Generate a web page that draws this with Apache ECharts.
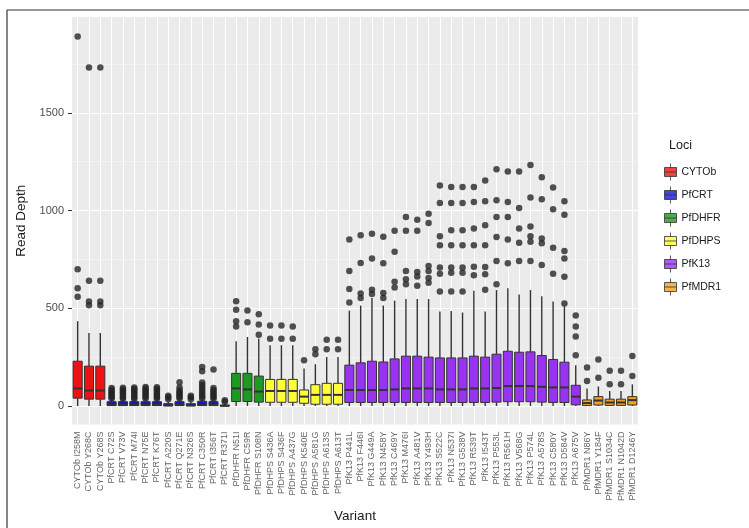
<!DOCTYPE html>
<html><head><meta charset="utf-8">
<script src="https://cdn.jsdelivr.net/npm/echarts@6/dist/echarts.min.js"></script>
<style>html,body{margin:0;padding:0;background:#fff}#c{width:749px;height:528px}</style>
</head><body><div id="c"></div>
<script>
const categories = [
 'CYTOb I258M','CYTOb Y268C','CYTOb Y268S',
 'PfCRT C72S','PfCRT V73V','PfCRT M74I','PfCRT N75E','PfCRT K76T','PfCRT A220S','PfCRT Q271E','PfCRT N326S','PfCRT C350R','PfCRT I356T','PfCRT R371I',
 'PfDHFR N51I','PfDHFR C59R','PfDHFR S108N',
 'PfDHPS S436A','PfDHPS S436F','PfDHPS A437G','PfDHPS K540E','PfDHPS A581G','PfDHPS A613S','PfDHPS A613T',
 'PfK13 P441L','PfK13 F446I','PfK13 G449A','PfK13 N458Y','PfK13 C469Y','PfK13 M476I','PfK13 A481V','PfK13 Y493H','PfK13 S522C','PfK13 N537I','PfK13 G538V','PfK13 R539T','PfK13 I543T','PfK13 P553L','PfK13 R561H','PfK13 V568G','PfK13 P574L','PfK13 A578S','PfK13 C580Y','PfK13 D584V','PfK13 A675V',
 'PfMDR1 N86Y','PfMDR1 Y184F','PfMDR1 S1034C','PfMDR1 N1042D','PfMDR1 D1246Y'
];
const loci = ['CYTOb','PfCRT','PfDHFR','PfDHPS','PfK13','PfMDR1'];

const lowWhisker = [0,0,0, 0,0,0,0,0,0,0,0,0,0,0, 0,0,0, 0,0,0,0,0,0,0,
 0,0,0,0,0,0,0,0,0,0,0,0,0,0,0,0,0,0,0,0,0, 0,0,0,0,0];
const q1 = [40,35,35, 2,2,2,2,2,1,2,1,2,2,0, 23,23,20, 19,19,19,14,9,9,9,
 18,18,18,18,18,18,18,18,18,18,18,18,18,20,22,22,22,20,18,18,6, 2,5,3,3,5];
const median = [90,79,79, 6,6,6,6,6,3,6,3,6,6,1, 90,85,74, 77,77,77,48,57,57,57,
 82,82,82,82,85,90,90,90,85,85,85,90,90,92,102,102,102,98,95,95,48, 15,28,18,18,30];
const q3 = [229,204,204, 22,22,22,22,22,12,22,12,24,22,5, 167,167,153, 136,136,136,82,109,116,116,
 209,221,229,225,241,255,255,250,246,246,246,255,250,265,280,275,277,258,238,224,106, 31,48,35,35,48];
const highWhisker = [434,373,373, 30,30,30,30,30,20,30,20,32,30,12, 331,353,345, 311,311,311,192,214,251,251,
 488,514,552,514,539,547,547,547,483,486,478,590,483,593,603,570,593,561,534,510,209, 90,100,77,77,111];
const outliers = [
 [559,603,700,1890],[515,535,641,1732],[515,535,641,1732],
 [38,45,53,60,68,75,83,92],[37,44,52,61,69,77,85,93],[36,44,53,62,70,79,87,95],[38,46,55,63,72,80,89,97],[37,45,54,62,71,79,88,96],
 [35,45,52],[38,46,55,63,72,80,95,121],[35,45,52],[38,48,58,70,82,95,108,120,178,200],[36,45,54,63,72,82,92,187],[22,30],
 [407,434,493,536],[429,489],[364,417,469],
 [344,412],[344,412],[344,407],[234],[265,290],[290,339],[290,339],
 [530,598,691,852],[552,575,732,874],[573,595,754,881],[552,578,730,866],[606,635,789,897],
 [623,649,691,897,967],[615,663,685,897,953],[630,655,691,716,936,983],
 [586,677,708,822,869,1038,1128],[586,682,708,822,899,1038,1120],[586,682,708,822,899,1038,1120],
 [669,712,822,908,1043,1120],[595,674,711,822,925,1047,1153],[623,742,864,967,1052,1211],
 [730,852,967,1043,1199],[742,835,908,1013,1199],[742,840,869,918,1067,1233],
 [721,832,857,1058,1170],[676,810,1006,1118],[525,661,754,793,979,1047],[260,356,407,463],
 [128,197],[145,238],[111,180],[111,180],[153,256]
];
const yTicks = [0,500,1000,1500];

const lociColors = {CYTOb:'#EE1212', PfCRT:'#1414D6', PfDHFR:'#1E9A22', PfDHPS:'#FFFF38', PfK13:'#9933F2', PfMDR1:'#F2A024'};
const FONT = 'Liberation Sans, Arial, sans-serif';
const INK = '#333333';

const boxData = categories.map((c,i)=>[i, lowWhisker[i], q1[i], median[i], q3[i], highWhisker[i]]);
const outlierData = [];
outliers.forEach((arr,i)=>arr.forEach(v=>outlierData.push([i,v])));

function renderBox(params, api){
  const i = api.value(0);
  const color = lociColors[categories[i].split(' ')[0]];
  const band = api.size([1,0])[0];
  const w = band*0.8;
  const xc = api.coord([i,0])[0];
  const yL = api.coord([i, api.value(1)])[1];
  const y1 = api.coord([i, api.value(2)])[1];
  const ym = api.coord([i, api.value(3)])[1];
  const y3 = api.coord([i, api.value(4)])[1];
  const yH = api.coord([i, api.value(5)])[1];
  const x0 = xc - w/2;
  return {type:'group', children:[
    {type:'line', shape:{x1:xc,y1:yL,x2:xc,y2:y1}, style:{stroke:INK,lineWidth:1.4}},
    {type:'line', shape:{x1:xc,y1:y3,x2:xc,y2:yH}, style:{stroke:INK,lineWidth:1.4}},
    {type:'rect', shape:{x:x0,y:y3,width:w,height:Math.max(y1-y3,1)}, style:{fill:color,stroke:INK,lineWidth:1}},
    {type:'line', shape:{x1:x0,y1:ym,x2:x0+w,y2:ym}, style:{stroke:INK,lineWidth:2}}
  ]};
}

const keyIcon = 'path://M6,0 L6,4 M0,4 L12,4 L12,13 L0,13 Z M0,8.5 L12,8.5 M6,13 L6,17';

const chart = echarts.init(document.getElementById('c'), null, {renderer:'canvas'});
const option = {
  animation:false,
  backgroundColor:'#ffffff',
  textStyle:{fontFamily:FONT},
  title:{text:'Loci', left:664, top:134, textStyle:{fontSize:12.5, fontWeight:'normal', color:'#1a1a1a', fontFamily:FONT}},
  grid:{left:72, top:17, width:566, height:411, show:true, backgroundColor:'#EBEBEB', borderWidth:0},
  legend:{orient:'vertical', left:664, top:163, itemWidth:12, itemHeight:17, itemGap:5, selectedMode:false, padding:0,
    textStyle:{fontSize:10.5, color:'#1a1a1a', fontFamily:FONT},
    data: loci.map(l=>({name:l, icon:keyIcon, itemStyle:{color:lociColors[l], borderColor:INK, borderWidth:1}}))},
  xAxis:{type:'category', data:categories, boundaryGap:true,
    name:'Variant', nameLocation:'middle', nameGap:81,
    nameTextStyle:{fontSize:13.5, color:'#1a1a1a', fontFamily:FONT},
    axisLine:{show:false},
    axisTick:{show:true, interval:0, alignWithLabel:true, length:4, lineStyle:{color:INK, width:1}},
    axisLabel:{interval:0, rotate:90, fontSize:9, color:'#666', margin:7, fontFamily:FONT},
    splitLine:{show:false}},
  yAxis:{type:'value', min:-95, max:1990, splitNumber:4,
    name:'Read Depth', nameLocation:'middle', nameGap:23,
    nameTextStyle:{fontSize:13.5, color:'#1a1a1a', fontFamily:FONT},
    axisLine:{show:false},
    axisTick:{show:true, length:4, customValues:yTicks, lineStyle:{color:INK, width:1}},
    axisLabel:{customValues:yTicks, formatter:v=>String(v), fontSize:11, color:'#4d4d4d', margin:8, fontFamily:FONT},
    splitLine:{show:true, lineStyle:{color:'#ffffff', width:1.2}},
    minorTick:{show:false, splitNumber:2},
    minorSplitLine:{show:true, lineStyle:{color:'#F5F5F5', width:0.7}}},
  graphic:[
    {type:'line', shape:{x1:7,y1:10,x2:749,y2:10}, style:{stroke:'#333', lineWidth:1.2}},
    {type:'line', shape:{x1:7,y1:10,x2:7,y2:528}, style:{stroke:'#333', lineWidth:1.2}}
  ],
  series:[
    {type:'scatter', name:'vgrid', data:[], z:1, silent:true,
      markLine:{z:1, silent:true, symbol:'none', label:{show:false}, animation:false,
        lineStyle:{color:'#ffffff', width:1, type:'solid'},
        data: categories.map(c=>({xAxis:c}))}},
    {type:'custom', name:'boxes', data:boxData, renderItem:renderBox, encode:{x:0, y:[1,2,3,4,5]}, z:3, silent:true},
    {type:'scatter', name:'outliers', data:outlierData, symbolSize:6.5, itemStyle:{color:'#262626'}, z:4, silent:true}
  ].concat(loci.map(l=>({type:'scatter', name:l, data:[], itemStyle:{color:lociColors[l]}})))
};
chart.setOption(option);
</script></body></html>
